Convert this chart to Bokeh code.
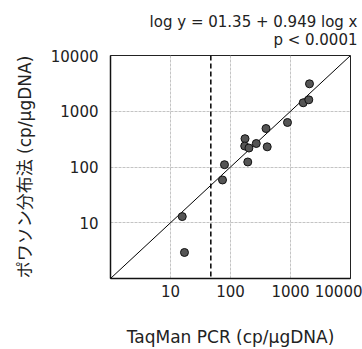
from bokeh.plotting import figure
from bokeh.models import FixedTicker, CustomJSTickFormatter, Span, Title, Range1d
from bokeh.embed import file_html
from bokeh.resources import INLINE

# Data
taqman = [17.1, 15.7, 73.6, 79.4, 174.5, 172.5, 203, 269, 194, 391, 409, 891, 2073, 1629, 2018]
poisson = [2.93, 12.9, 58.5, 110, 322, 238, 219, 264, 123, 490, 230, 629, 3107, 1419, 1604]
fit_x = [1, 10000]
fit_y = [1, 10000]
cutoff_x = 47
x_ticks = [10, 100, 1000, 10000]
y_ticks = [10, 100, 1000, 10000]
eq_text = "log y = 01.35 + 0.949 log x"
p_text = "p < 0.0001"
x_label = "TaqMan PCR (cp/μgDNA)"
y_label = "ポワソン分布法 (cp/μgDNA)"

FONT = "DejaVu Sans, Noto Sans CJK JP"
TXT = "#222222"

p = figure(width=362, height=349, x_axis_type="log", y_axis_type="log",
           x_range=Range1d(1, 10000), y_range=Range1d(1, 10000),
           output_backend="svg", toolbar_location=None,
           min_border_left=110, min_border_right=12,
           min_border_top=55, min_border_bottom=71)

p.background_fill_color = "white"
p.border_fill_color = "white"
p.outline_line_color = "#222222"
p.outline_line_width = 1

fmt = CustomJSTickFormatter(code="return tick.toFixed(0)")
for ax, ticks in ((p.xaxis[0], x_ticks), (p.yaxis[0], y_ticks)):
    ax.ticker = FixedTicker(ticks=ticks, minor_ticks=[])
    ax.formatter = fmt
    ax.major_tick_in = 0
    ax.major_tick_out = 0
    ax.minor_tick_in = 0
    ax.minor_tick_out = 0
    ax.axis_line_color = "#111111"
    ax.axis_line_width = 1.5
    ax.major_label_text_font = FONT
    ax.major_label_text_font_size = "15px"
    ax.major_label_text_color = TXT
    ax.axis_label_text_font = FONT
    ax.axis_label_text_font_size = "17px"
    ax.axis_label_text_font_style = "normal"
    ax.axis_label_text_color = TXT

p.xaxis.axis_label = x_label
p.yaxis.axis_label = y_label
p.xaxis.major_label_standoff = 6
p.xaxis.axis_label_standoff = 27
p.yaxis.major_label_standoff = 12
p.yaxis.axis_label_standoff = 13

p.xgrid.ticker = FixedTicker(ticks=x_ticks)
p.ygrid.ticker = FixedTicker(ticks=y_ticks)
p.grid.grid_line_color = "#c4c4c4"
p.grid.grid_line_width = 1
p.grid.grid_line_dash = "3 1"

p.line(fit_x, fit_y, line_color="black", line_width=1)
p.add_layout(Span(location=cutoff_x, dimension="height", line_color="black",
                  line_width=1.5, line_dash="5 3"))
p.scatter(taqman, poisson, size=8, fill_color="#555555", line_color="#111111", line_width=1)

p.title.text = eq_text
p.title.align = "right"
p.title.offset = -7
p.title.text_font = FONT
p.title.text_font_size = "15px"
p.title.text_font_style = "normal"
p.title.text_color = TXT
p.title.standoff = -18

t2 = Title(text=p_text, align="right", offset=-7, text_font=FONT, text_font_size="15px",
           text_font_style="normal", text_color=TXT, standoff=14)
p.add_layout(t2, "above")

open("out.html", "w").write(file_html(p, INLINE))
